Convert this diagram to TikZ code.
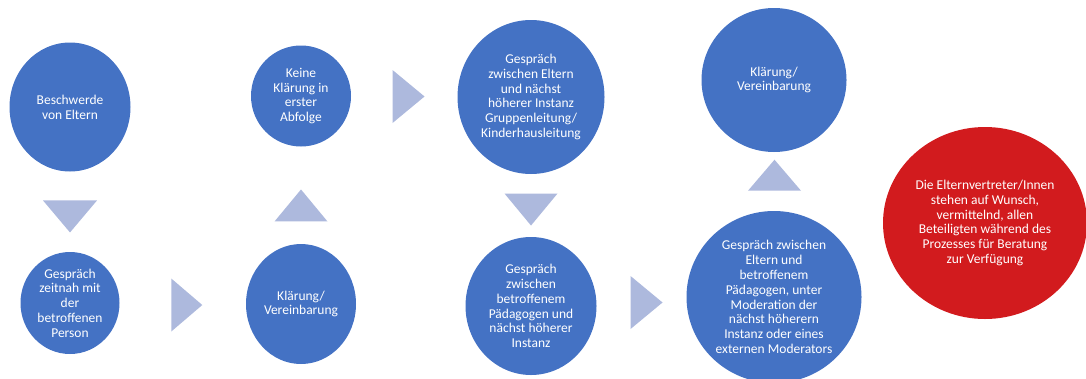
\documentclass[tikz,border=0pt]{standalone}
\usepackage{fontspec}
\setmainfont{Carlito}
\usetikzlibrary{shapes.geometric}
\definecolor{phaseblue}{HTML}{4472C4}
\definecolor{pointerblue}{HTML}{ADB9DD}
\definecolor{hintred}{HTML}{D21B1E}
\begin{document}
\begin{tikzpicture}[x=1pt,y=-1pt,inner sep=0pt,outer sep=0pt,
phase/.style={ellipse,fill=phaseblue,text=white,align=center,font=\fontsize{13.5}{14.8}\selectfont},
hint/.style={phase,fill=hintred},
pointer/.style={isosceles triangle,isosceles triangle stretches,fill=pointerblue}]
\useasboundingbox (0,0) rectangle (1086,378);
\draw (70,107) node[phase,minimum width=121,minimum height=129] (start) {Beschwerde\\von Eltern};
\draw (70,303) node[phase,minimum width=99,minimum height=102] (talk1) {Gespräch\\zeitnah mit\\der\\betroffenen\\Person};
\draw (301,304) node[phase,minimum width=110,minimum height=120] (ok1) {Klärung/\\Vereinbarung};
\draw (301,96) node[phase,minimum width=100,minimum height=101] (nook) {Keine\\Klärung in\\erster\\Abfolge};
\draw (531,97) node[phase,minimum width=147,minimum height=154] (talk2) {Gespräch\\zwischen Eltern\\und nächst\\höherer Instanz\\Gruppenleitung/\\Kinderhausleitung};
\draw (531,306) node[phase,minimum width=131,minimum height=138] (talk3) {Gespräch\\zwischen\\betroffenem\\Pädagogen und\\nächst höherer\\Instanz};
\draw (774,297) node[phase,minimum width=175,minimum height=172] (talk4) {Gespräch zwischen\\Eltern und\\betroffenem\\Pädagogen, unter\\Moderation der\\nächst höherern\\Instanz oder eines\\externen Moderators};
\draw (774,80) node[phase,minimum width=145,minimum height=144] (ok2) {Klärung/\\Vereinbarung};
\draw (985,223) node[hint,minimum width=204,minimum height=192] (council) {Die Elternvertreter/Innen\\stehen auf Wunsch,\\vermittelnd, allen\\Beteiligten während des\\Prozesses für Beratung\\zur Verfügung};
% steps between the phases
\draw (70,213) node[pointer,shape border rotate=270,minimum width=54,minimum height=32] (p1) {};
\draw (183.5,305) node[pointer,minimum width=53,minimum height=31] (p2) {};
\draw (301,209) node[pointer,shape border rotate=90,minimum width=53,minimum height=32] (p3) {};
\draw (405,96.5) node[pointer,minimum width=53,minimum height=32] (p4) {};
\draw (531,206) node[pointer,shape border rotate=270,minimum width=53,minimum height=32] (p5) {};
\draw (643,302.5) node[pointer,minimum width=53,minimum height=32] (p6) {};
\draw (774.5,178.5) node[pointer,shape border rotate=90,minimum width=53,minimum height=31] (p7) {};
\end{tikzpicture}
\end{document}
